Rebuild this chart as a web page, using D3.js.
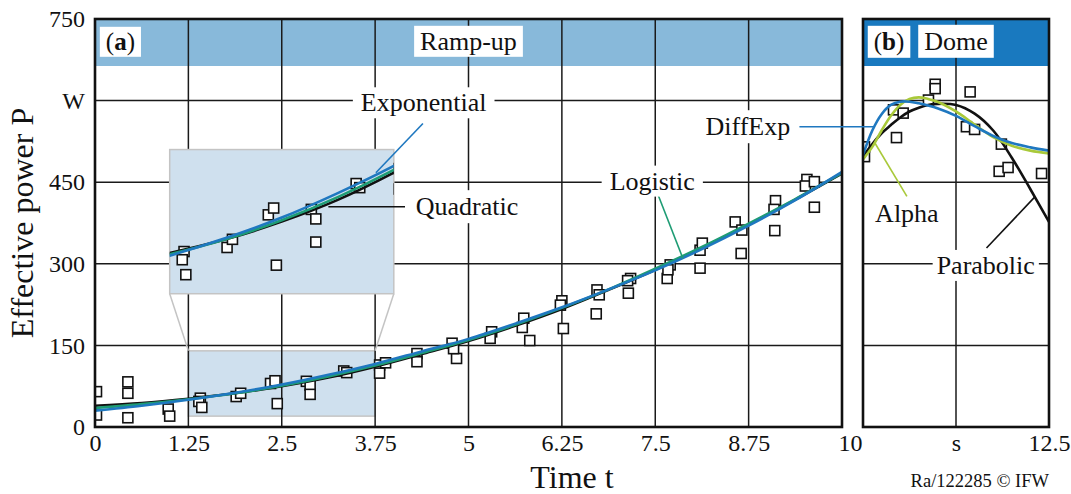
<!DOCTYPE html>
<html>
<head>
<meta charset="utf-8">
<script src="https://cdn.jsdelivr.net/npm/d3@7"></script>
<style>
  body { margin: 0; background: #fff; }
  text { font-family: "Liberation Serif", "Times New Roman", serif; fill: #111; }
</style>
</head>
<body>
<div id="chart"></div>
<script>
// ---- data ----
// (a) ramp-up measurements
const rampT = [0.02, 0.02, 0.44, 0.44, 0.44, 0.98, 1.0, 1.41, 1.39, 1.43, 1.89, 1.95, 2.35, 2.41, 2.44,
  2.83, 2.88, 2.88, 3.33, 3.37, 3.81, 3.81, 3.89, 4.31, 4.31, 4.78, 4.84, 4.8, 5.31, 5.29, 5.74, 5.72, 5.82,
  6.25, 6.23, 6.27, 6.72, 6.75, 6.71, 7.17, 7.13, 7.14, 7.66, 7.7, 7.67, 8.1, 8.13, 8.1, 8.57, 8.66, 8.65,
  9.11, 9.09, 9.1, 9.53, 9.51, 9.63, 9.63];
const rampP = [65, 22, 83, 62, 17, 33, 20, 53, 47, 36, 56, 62, 80, 85, 43,
  84, 77, 60, 103, 100, 114, 99, 118, 135, 120, 154, 126, 144, 175, 163, 200, 183, 159,
  232, 224, 181, 252, 243, 208, 273, 269, 246, 273, 298, 289, 325, 338, 292, 377, 362, 319,
  416, 400, 361, 455, 443, 451, 404];
// (a) fitted curves, sampled at fitT
const fitT = [0, 0.625, 1.25, 1.875, 2.5, 3.125, 3.75, 4.375, 5, 5.625, 6.25, 6.875, 7.5, 8.125, 8.75, 9.375, 10];
const quadratic   = [39, 44, 52, 62, 75, 91, 111, 134, 158, 186, 217, 252, 289, 329, 372, 418, 466];
const logistic    = [35, 42, 51, 62, 76, 93, 113, 136, 160, 188, 219, 253, 291, 331, 374, 419, 467];
const exponential = [30, 39, 50, 63, 78, 96, 116, 139, 162, 190, 220, 253, 288, 327, 370, 417, 469];

// (b) dome measurements
const domeT = [10.97, 10.97, 11.44, 10.88, 10.41, 10.54, 10.45, 11.39, 11.5, 11.86, 11.83, 11.95, 12.4, 10.02, 10.02];
const domeP = [630, 622, 616, 601, 583, 577, 532, 552, 547, 520, 470, 477, 466, 515, 497];
// (b) fitted curves, sampled at domeFitT
const domeFitT = [10, 10.125, 10.25, 10.375, 10.5, 10.625, 10.75, 10.875, 11, 11.25, 11.5, 11.75, 12, 12.25, 12.5];
const parabolic = [497, 520, 540, 555, 569, 580, 587, 592, 594, 592, 576, 545, 495, 437, 377];
const alpha     = [492, 515, 545, 572, 592, 603, 606, 603, 598, 580, 556, 533, 517, 508, 503];
const diffExp   = [500, 545, 575, 592, 598, 598, 595, 591, 586, 572, 553, 535, 522, 514, 508];

// ticks
const xTicksA = [0, 1.25, 2.5, 3.75, 5, 6.25, 7.5, 8.75];
const xTicksB = [10, 11.25, 12.5];
const xTickLabelsB = ["10", "s", "12.5"];
const yTicks = [0, 150, 300, 450, 600, 750];
const yTickLabels = ["0", "150", "300", "450", "W", "750"];

const colExp = "#1f78c0", colLog = "#1e9c74", colAlpha = "#a9c93a", colBlack = "#111";

// ---- layout ----
const W = 1071, H = 494;
const x = d3.scaleLinear().domain([0, 10]).range([95, 842]);
const y = d3.scaleLinear().domain([0, 750]).range([427, 19]);
const xb = d3.scaleLinear().domain([10, 12.5]).range([863, 1049]);
// inset magnifies t 1.25..3.75, P 22..128 into box t 1..4, P 245..510
const xi = d3.scaleLinear().domain([1.25, 3.75]).range([x(1), x(4)]);
const yi = d3.scaleLinear().domain([22, 128]).range([y(245), y(510)]);
const bandH = 47;

const svg = d3.select("#chart").append("svg")
    .attr("width", W).attr("height", H);
svg.append("rect").attr("width", W).attr("height", H).attr("fill", "#fff");

const defs = svg.append("defs");
function clip(id, x0, y0, x1, y1) {
  defs.append("clipPath").attr("id", id).append("rect")
      .attr("x", x0).attr("y", y0).attr("width", x1 - x0).attr("height", y1 - y0);
}
clip("clipA", x(0), y(750), x(10), y(0));
clip("clipB", xb(10), y(750), xb(12.5), y(0));
clip("clipI", x(1), y(510), x(4), y(245));

function line(xs, ys) {
  return d3.line().x(d => xs(d[0])).y(d => ys(d[1])).curve(d3.curveCatmullRom.alpha(0.5));
}
function zip(a, b) { return a.map((v, i) => [v, b[i]]); }

function squares(g, pts, xs, ys) {
  g.selectAll(null).data(pts).enter().append("rect")
      .attr("x", d => xs(d[0]) - 5).attr("y", d => ys(d[1]) - 5)
      .attr("width", 10).attr("height", 10)
      .attr("fill", "#fff").attr("stroke", "#111").attr("stroke-width", 1.6);
}

function curves(g, list, xs, ys) {
  list.forEach(c => {
    g.append("path").datum(c.pts)
        .attr("d", line(xs, ys))
        .attr("fill", "none").attr("stroke", c.color).attr("stroke-width", 2.6);
  });
}

function label(g, str, cx, cy, size, padX, padY) {
  const gg = g.append("g");
  const r = gg.append("rect").attr("fill", "#fff");
  const t = gg.append("text").attr("x", cx).attr("y", cy)
      .attr("text-anchor", "middle").attr("dominant-baseline", "central")
      .style("font-size", size + "px");
  if (Array.isArray(str)) {
    str.forEach(s => t.append("tspan").style("font-weight", s[1] ? "bold" : null).text(s[0]));
  } else t.text(str);
  const b = t.node().getBBox();
  r.attr("x", b.x - padX).attr("y", b.y - padY)
      .attr("width", b.width + 2 * padX).attr("height", b.height + 2 * padY);
  return gg;
}

function pointer(g, p0, p1, color) {
  g.append("line").attr("x1", p0[0]).attr("y1", p0[1]).attr("x2", p1[0]).attr("y2", p1[1])
      .attr("stroke", color).attr("stroke-width", 1.6);
}

// ---- panel (a) ----
const A = svg.append("g");
A.append("rect").attr("x", x(0)).attr("y", y(750)).attr("width", x(10) - x(0)).attr("height", bandH)
    .attr("fill", "#88b9da");
// zoom window
A.append("rect").attr("x", x(1.25)).attr("y", y(140)).attr("width", x(3.75) - x(1.25)).attr("height", y(20) - y(140))
    .attr("fill", "#cfe0ee").attr("stroke", "#c4c4c4").attr("stroke-width", 1.5);

const gridA = A.append("g").attr("stroke", "#1a1a1a").attr("stroke-width", 1.5);
gridA.selectAll(null).data(xTicksA.slice(1)).enter().append("line")
    .attr("x1", d => x(d)).attr("x2", d => x(d)).attr("y1", y(750)).attr("y2", y(0));
gridA.selectAll(null).data(yTicks.slice(1, -1)).enter().append("line")
    .attr("x1", x(0)).attr("x2", x(10)).attr("y1", d => y(d)).attr("y2", d => y(d));

// connectors from zoom window to inset
A.append("line").attr("x1", x(1)).attr("y1", y(245)).attr("x2", x(1.25)).attr("y2", y(140))
    .attr("stroke", "#c4c4c4").attr("stroke-width", 1.5);
A.append("line").attr("x1", x(4)).attr("y1", y(245)).attr("x2", x(3.75)).attr("y2", y(140))
    .attr("stroke", "#c4c4c4").attr("stroke-width", 1.5);

const rampPts = zip(rampT, rampP);
const rampCurves = [
  { pts: zip(fitT, quadratic), color: colBlack },
  { pts: zip(fitT, logistic), color: colLog },
  { pts: zip(fitT, exponential), color: colExp }
];
const plotA = A.append("g").attr("clip-path", "url(#clipA)");
squares(plotA, rampPts, x, y);
curves(plotA, rampCurves, x, y);

// inset
A.append("rect").attr("x", x(1)).attr("y", y(510)).attr("width", x(4) - x(1)).attr("height", y(245) - y(510))
    .attr("fill", "#cfe0ee").attr("stroke", "#c4c4c4").attr("stroke-width", 1.5);
const ins = A.append("g").attr("clip-path", "url(#clipI)");
squares(ins, rampPts, xi, yi);
curves(ins, rampCurves, xi, yi);

A.append("rect").attr("x", x(0)).attr("y", y(750)).attr("width", x(10) - x(0)).attr("height", y(0) - y(750))
    .attr("fill", "none").attr("stroke", "#111").attr("stroke-width", 2.6);

// ---- panel (b) ----
const B = svg.append("g");
B.append("rect").attr("x", xb(10)).attr("y", y(750)).attr("width", xb(12.5) - xb(10)).attr("height", bandH)
    .attr("fill", "#1979bf");
const gridB = B.append("g").attr("stroke", "#1a1a1a").attr("stroke-width", 1.5);
gridB.append("line").attr("x1", xb(11.25)).attr("x2", xb(11.25)).attr("y1", y(750)).attr("y2", y(0));
gridB.selectAll(null).data(yTicks.slice(1, -1)).enter().append("line")
    .attr("x1", xb(10)).attr("x2", xb(12.5)).attr("y1", d => y(d)).attr("y2", d => y(d));
const plotB = B.append("g").attr("clip-path", "url(#clipB)");
squares(plotB, zip(domeT, domeP), xb, y);
curves(plotB, [
  { pts: zip(domeFitT, parabolic), color: colBlack },
  { pts: zip(domeFitT, alpha), color: colAlpha },
  { pts: zip(domeFitT, diffExp), color: colExp }
], xb, y);
B.append("rect").attr("x", xb(10)).attr("y", y(750)).attr("width", xb(12.5) - xb(10)).attr("height", y(0) - y(750))
    .attr("fill", "none").attr("stroke", "#111").attr("stroke-width", 2.6);

// ---- axes ----
const axY = svg.append("g").attr("transform", `translate(${x(0)},0)`)
    .call(d3.axisLeft(y).tickValues(yTicks).tickFormat((d, i) => yTickLabels[i]).tickSize(0).tickPadding(10));
const axA = svg.append("g").attr("transform", `translate(0,${y(0)})`)
    .call(d3.axisBottom(x).tickValues(xTicksA).tickFormat(d3.format("~g")).tickSize(0).tickPadding(7));
const axB = svg.append("g").attr("transform", `translate(0,${y(0)})`)
    .call(d3.axisBottom(xb).tickValues(xTicksB).tickFormat((d, i) => xTickLabelsB[i]).tickSize(0).tickPadding(7));
[axY, axA, axB].forEach(a => {
  a.select(".domain").remove();
  a.attr("font-family", null).attr("font-size", null);
  a.selectAll("text").style("font-size", "24px").attr("fill", "#111");
});
axB.selectAll("text").filter(d => d === 10).attr("text-anchor", "end").attr("x", -1);

svg.append("text").attr("x", (x(0) + xb(12.5)) / 2).attr("y", 488)
    .attr("text-anchor", "middle").style("font-size", "32px").text("Time t");
svg.append("text").attr("transform", `translate(33,${(y(0) + y(750)) / 2}) rotate(-90)`)
    .attr("text-anchor", "middle").style("font-size", "32px").text("Effective power P");
svg.append("text").attr("x", xb(12.5)).attr("y", 487)
    .attr("text-anchor", "end").style("font-size", "18.5px").text("Ra/122285 \u00a9 IFW");

// ---- annotations ----
const N = svg.append("g");
pointer(N, [xi(3.55), yi(111)], [x(4.39), y(558)], colExp);
pointer(N, [xi(3.02), yi(86)], [x(4.15), yi(86)], colBlack);
pointer(N, [x(7.87), y(310)], [x(7.54), y(426)], colLog);
pointer(N, [x(9.43), y(552)], [xb(10.14), y(552)], colExp);
pointer(N, [xb(10.59), y(424)], [xb(10.16), y(522)], colAlpha);
pointer(N, [xb(11.66), y(329)], [xb(12.31), y(423)], colBlack);

label(N, "Exponential", x(4.4), y(596), 26, 8, 1);
label(N, "Quadratic", x(4.98), yi(86), 26, 8, 2);
label(N, "Logistic", x(7.46), y(452), 26, 8, 1);
label(N, "DiffExp", x(8.74), y(552), 26, 8, 2);
label(N, "Alpha", xb(10.59), y(393), 26, 2, 1);
label(N, "Parabolic", xb(11.65), y(297), 26, 4, 1);

label(N, [["(", false], ["a", true], [")", false]], x(0.34), y(709), 25, 6, 1);
label(N, "Ramp-up", x(5), y(709), 26, 6, 1);
label(N, [["(", false], ["b", true], [")", false]], xb(10.35), y(709), 25, 6, 2);
label(N, "Dome", xb(11.25), y(709), 26, 6, 2);
</script>
</body>
</html>
